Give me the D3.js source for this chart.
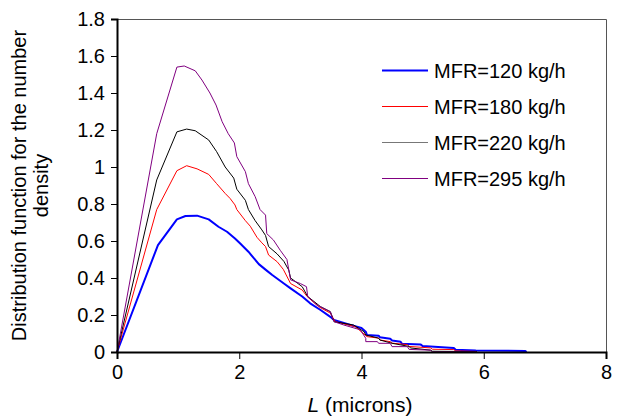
<!DOCTYPE html>
<html>
<head>
<meta charset="utf-8">
<script src="https://cdn.jsdelivr.net/npm/d3@7"></script>
<style>
  body { margin: 0; background: #fff; }
  svg { font-family: "Liberation Sans", Arial, sans-serif; }
</style>
</head>
<body>
<svg id="chart" width="617" height="419"></svg>
<script>
// values
var xTicks = [0, 2, 4, 6, 8];
var yTicks = [0, 0.2, 0.4, 0.6, 0.8, 1, 1.2, 1.4, 1.6, 1.8];
var seriesNames = ["MFR=120 kg/h", "MFR=180 kg/h", "MFR=220 kg/h", "MFR=295 kg/h"];
var seriesColors = ["#0000ff", "#ff0000", "#000000", "#800080"];

var L120 = [0, 0.67, 0.98, 1.12, 1.31, 1.5, 1.66, 1.8, 1.93, 2.02, 2.15, 2.32, 2.45, 2.54, 2.73, 2.84, 3.03, 3.16, 3.33, 3.49, 3.55, 3.82, 4.0, 4.07, 4.09, 4.28, 4.3, 4.47, 4.5, 4.64, 4.66, 4.97, 5.0, 5.51, 5.54, 5.87, 6.68, 6.7];
var v120 = [0, 0.578, 0.717, 0.735, 0.737, 0.717, 0.677, 0.65, 0.614, 0.585, 0.542, 0.475, 0.44, 0.416, 0.37, 0.344, 0.3, 0.263, 0.227, 0.19, 0.173, 0.146, 0.13, 0.11, 0.092, 0.088, 0.08, 0.072, 0.062, 0.055, 0.045, 0.04, 0.032, 0.022, 0.012, 0.008, 0.006, 0];

var L180 = [0, 0.65, 0.98, 1.14, 1.31, 1.5, 1.63, 1.77, 1.85, 1.93, 1.96, 2.1, 2.18, 2.29, 2.37, 2.43, 2.48, 2.62, 2.72, 2.84, 3.03, 3.11, 3.3, 3.49, 3.57, 3.9, 4.09, 4.28, 4.3, 4.47, 4.5, 4.75, 4.78, 5.13, 5.16, 5.51, 5.54, 5.87, 5.89];
var v180 = [0, 0.77, 0.98, 1.007, 0.99, 0.96, 0.91, 0.857, 0.83, 0.795, 0.77, 0.71, 0.68, 0.62, 0.59, 0.57, 0.524, 0.488, 0.447, 0.37, 0.335, 0.3, 0.245, 0.21, 0.164, 0.137, 0.083, 0.075, 0.065, 0.056, 0.048, 0.04, 0.03, 0.022, 0.015, 0.013, 0.006, 0.003, 0];

var L220 = [0, 0.65, 0.98, 1.14, 1.28, 1.5, 1.63, 1.77, 1.91, 1.96, 2.1, 2.15, 2.26, 2.37, 2.43, 2.48, 2.62, 2.73, 2.81, 2.84, 3.03, 3.12, 3.33, 3.49, 3.55, 3.87, 4.04, 4.07, 4.28, 4.3, 4.5, 4.78, 4.8, 5.13, 5.16, 5.87, 5.89];
var v220 = [0, 0.93, 1.19, 1.205, 1.196, 1.146, 1.083, 1.0, 0.94, 0.88, 0.82, 0.77, 0.71, 0.66, 0.63, 0.57, 0.53, 0.49, 0.443, 0.4, 0.353, 0.3, 0.245, 0.218, 0.164, 0.146, 0.11, 0.092, 0.075, 0.065, 0.047, 0.03, 0.022, 0.01, 0.004, 0.002, 0];

var L295 = [0, 0.65, 0.98, 1.1, 1.28, 1.39, 1.52, 1.62, 1.72, 1.82, 1.92, 1.96, 2.1, 2.15, 2.26, 2.34, 2.43, 2.45, 2.56, 2.67, 2.78, 2.84, 3.0, 3.1, 3.12, 3.27, 3.49, 3.55, 3.71, 3.98, 4.07, 4.07, 4.26, 4.28, 4.47, 4.5, 4.75, 4.78, 5.13, 5.16, 5.87];
var v295 = [0, 1.18, 1.54, 1.546, 1.52, 1.47, 1.4, 1.335, 1.245, 1.18, 1.13, 1.056, 0.975, 0.91, 0.84, 0.77, 0.74, 0.64, 0.605, 0.55, 0.5, 0.39, 0.37, 0.353, 0.3, 0.254, 0.218, 0.164, 0.146, 0.12, 0.074, 0.056, 0.056, 0.047, 0.047, 0.029, 0.029, 0.014, 0.01, 0, 0];

var seriesL = [L120, L180, L220, L295];
var seriesV = [v120, v180, v220, v295];
var seriesWidth = [2, 1, 1, 1];

var svg = d3.select("#chart");
var pLeft = 117, pRight = 606, pTop = 19, pBottom = 352;

var x = d3.scaleLinear().domain([0, 8]).range([pLeft, pRight]);
var y = d3.scaleLinear().domain([0, 1.8]).range([pBottom, pTop]);

// frame (top and right)
svg.append("path")
    .attr("d", "M" + pLeft + "," + (pTop + 0.5) + "H" + (pRight + 0.5) + "V" + pBottom)
    .attr("fill", "none")
    .attr("stroke", "#555")
    .attr("stroke-width", 1);

// lines
var line = d3.line().x(function (d) { return x(d[0]); }).y(function (d) { return y(d[1]); });
for (var s = 0; s < seriesL.length; s++) {
    var pts = seriesL[s].map(function (l, i) { return [l, seriesV[s][i]]; });
    svg.append("path")
        .datum(pts)
        .attr("d", line)
        .attr("fill", "none")
        .attr("stroke", seriesColors[s])
        .attr("stroke-width", seriesWidth[s])
        .attr("stroke-linejoin", "round");
}

// axes
var xAxis = svg.append("g")
    .attr("transform", "translate(0," + pBottom + ")")
    .call(d3.axisBottom(x).tickValues(xTicks).tickSize(7).tickPadding(6).tickFormat(d3.format("d")));
var yAxis = svg.append("g")
    .attr("transform", "translate(" + pLeft + ",0)")
    .call(d3.axisLeft(y).tickValues(yTicks).tickSize(6).tickPadding(6).tickFormat(function (d) { return String(+d.toFixed(1)); }));

[xAxis, yAxis].forEach(function (a) {
    a.select(".domain").attr("stroke", "#000").attr("stroke-width", 2);
    a.selectAll(".tick line").attr("stroke", "#000").attr("stroke-width", 1);
    a.selectAll(".tick text").attr("font-size", 20).attr("fill", "#000")
        .style("font-family", "Liberation Sans, Arial, sans-serif");
});

// axis titles
var xt = svg.append("text")
    .attr("x", 360)
    .attr("y", 412)
    .attr("text-anchor", "middle")
    .attr("font-size", 21);
xt.append("tspan").attr("font-style", "italic").text("L");
xt.append("tspan").text(" (microns)");

var yt = svg.append("text")
    .attr("transform", "translate(26," + ((pTop + pBottom) / 2) + ") rotate(-90)")
    .attr("text-anchor", "middle")
    .attr("font-size", 20);
yt.append("tspan").attr("x", 0).attr("dy", 0).text("Distribution function for the number");
yt.append("tspan").attr("x", 0).attr("dy", 22).text("density");

// legend
var legendY = [70.5, 106.5, 142.5, 178.5];
var legend = svg.append("g");
seriesNames.forEach(function (name, i) {
    legend.append("line")
        .attr("x1", 382).attr("x2", 428)
        .attr("y1", legendY[i]).attr("y2", legendY[i])
        .attr("stroke", i === 2 ? "#777" : seriesColors[i])
        .attr("stroke-width", i === 0 ? 2 : 1);
    legend.append("text")
        .attr("x", 434)
        .attr("y", legendY[i] + 7)
        .attr("font-size", 20)
        .attr("fill", "#000")
        .text(name);
});
</script>
</body>
</html>
